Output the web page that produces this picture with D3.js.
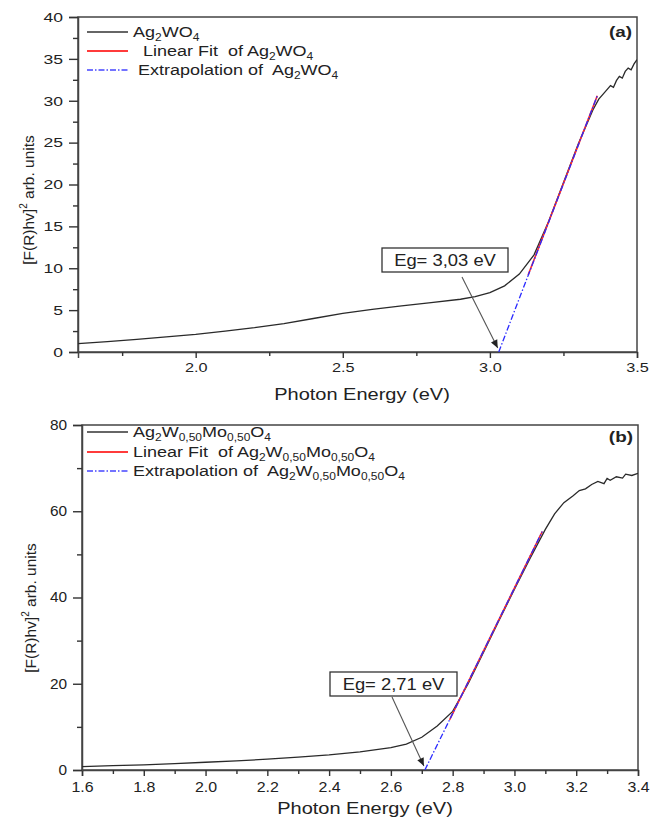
<!DOCTYPE html>
<html><head><meta charset="utf-8">
<script src="https://cdn.jsdelivr.net/npm/d3@7"></script>
<style>body{margin:0;background:#fff}svg{display:block}text{font-family:"Liberation Sans",Arial,sans-serif;fill:#222;white-space:pre}</style>
</head><body><svg id="c" width="651" height="825"></svg>
<script>
// Panel (a) data: Ag2WO4
const energyA = [1.60,1.70,1.80,1.90,2.00,2.10,2.20,2.30,2.40,2.50,2.60,2.70,2.80,2.90,2.95,3.00,3.05,3.10,3.15,3.20,3.25,3.30,3.35,3.37,3.39,3.41,3.42,3.43,3.44,3.45,3.46,3.47,3.48,3.49,3.50];
const absA    = [1.0,1.25,1.5,1.8,2.1,2.5,2.9,3.4,4.0,4.6,5.1,5.5,5.9,6.3,6.6,7.1,7.9,9.3,11.6,15.6,20.2,24.8,28.9,30.2,31.0,31.8,31.6,32.4,32.9,32.7,33.5,33.9,33.7,34.4,34.9];
const fitAx = [3.13, 3.365], fitAy = [9.2, 30.6];
const extAx = [3.03, 3.365], extAy = [0, 30.6];
const egA = 3.03;
const xTicksA = [2.0,2.5,3.0,3.5], xMinorA = [1.75,2.25,2.75,3.25];
const yTicksA = [0,5,10,15,20,25,30,35,40], yMinorA = [2.5,7.5,12.5,17.5,22.5,27.5,32.5,37.5];

// Panel (b) data: Ag2W0.50Mo0.50O4
const energyB = [1.60,1.70,1.80,1.90,2.00,2.10,2.20,2.30,2.40,2.50,2.60,2.65,2.70,2.75,2.80,2.85,2.90,2.95,3.00,3.05,3.10,3.13,3.16,3.19,3.21,3.23,3.25,3.27,3.29,3.30,3.31,3.33,3.35,3.36,3.38,3.40];
const absB    = [0.8,1.0,1.2,1.5,1.8,2.1,2.5,3.0,3.5,4.2,5.2,6.0,7.6,10.2,13.6,20.0,27.3,34.7,41.9,49.0,55.8,59.4,62.0,63.6,64.8,65.2,66.2,66.9,66.4,67.6,67.2,68.0,67.7,68.6,68.3,68.8];
const fitBx = [2.79, 3.09], fitBy = [11.6, 55.3];
const extBx = [2.71, 3.09], extBy = [0, 55.3];
const egB = 2.71;
const xTicksB = [1.6,1.8,2.0,2.2,2.4,2.6,2.8,3.0,3.2,3.4], xMinorB = [1.7,1.9,2.1,2.3,2.5,2.7,2.9,3.1,3.3];
const yTicksB = [0,20,40,60,80], yMinorB = [10,30,50,70];

const svg = d3.select("#c");

function stext(g, x, y, size, sx, anchor){
  return g.append("text").attr("transform",`translate(${x},${y}) scale(${sx},1)`)
    .attr("font-size",size).attr("text-anchor",anchor||"start").attr("xml:space","preserve");
}
function subText(g, x, y, parts){
  const t = stext(g, x, y, 15, 1.2);
  let shifted = false;
  parts.forEach(p=>{
    if (typeof p === "string") {
      const ts = t.append("tspan").text(p);
      if (shifted) { ts.attr("dy",-4); shifted=false; }
    } else {
      t.append("tspan").attr("font-size",10).attr("dy",4).text(p.s);
      shifted = true;
    }
  });
  return t;
}

function panel(o){
  const g = svg.append("g");
  const x = d3.scaleLinear().domain(o.xd).range([o.l,o.r]);
  const y = d3.scaleLinear().domain(o.yd).range([o.b,o.t]);
  g.append("rect").attr("x",o.l).attr("y",o.t).attr("width",o.r-o.l).attr("height",o.b-o.t)
    .attr("fill","none").attr("stroke","#444").attr("stroke-width",1.5);
  const ax = g.append("g").attr("transform",`translate(0,${o.b})`)
    .call(d3.axisBottom(x).tickValues(o.xt).tickFormat(d3.format(".1f")).tickSize(6).tickPadding(o.xpad));
  g.append("g").attr("transform",`translate(0,${o.b})`)
    .call(d3.axisBottom(x).tickValues(o.xm).tickFormat("").tickSize(4)).select(".domain").remove();
  const ay = g.append("g").attr("transform",`translate(${o.l},0)`)
    .call(d3.axisLeft(y).tickValues(o.yt).tickFormat(d3.format("d")).tickSize(9));
  g.append("g").attr("transform",`translate(${o.l},0)`)
    .call(d3.axisLeft(y).tickValues(o.ym).tickFormat("").tickSize(5)).select(".domain").remove();
  g.selectAll(".tick line").attr("stroke","#333").attr("stroke-width",1.4);
  g.selectAll(".domain").attr("stroke","#444").attr("stroke-width",1.5);
  ax.selectAll(".tick text").attr("font-size",o.xfs).attr("transform",`scale(${o.xsx},1)`);
  ay.selectAll(".tick text").attr("font-size",o.yfs).attr("x",-o.yGap/o.ysx).attr("transform",`scale(${o.ysx},1)`);
  g.selectAll(".tick text").attr("fill","#222").attr("font-family","Liberation Sans, Arial, sans-serif");
  // titles
  stext(g, o.xtX, o.xtY, 16, 1.25, "middle").text("Photon Energy (eV)");
  const yt = g.append("text").attr("transform",`translate(${o.ytX},${o.ytC}) rotate(-90)`)
    .attr("text-anchor","middle").attr("font-size",15.5).attr("xml:space","preserve");
  yt.append("tspan").text("[F(R)hv]");
  yt.append("tspan").attr("font-size",10).attr("dy",-7).text("2");
  yt.append("tspan").attr("dy",7).text(" arb. units");
  // clip
  const cid = "clip"+o.id;
  svg.append("clipPath").attr("id",cid).append("rect").attr("x",o.l).attr("y",o.t).attr("width",o.r-o.l).attr("height",o.b-o.t);
  const pg = g.append("g").attr("clip-path",`url(#${cid})`);
  const line = d3.line().x(d=>x(d[0])).y(d=>y(d[1]));
  pg.append("path").datum(o.ex.map((e,i)=>[e,o.ab[i]])).attr("d",line)
    .attr("fill","none").attr("stroke","#2a2a2a").attr("stroke-width",1.3);
  pg.append("path").datum(o.fx.map((e,i)=>[e,o.fy[i]])).attr("d",line)
    .attr("fill","none").attr("stroke","#ff2a2a").attr("stroke-width",1.6);
  pg.append("path").datum(o.xx.map((e,i)=>[e,o.xy[i]])).attr("d",line)
    .attr("fill","none").attr("stroke","#2a2aff").attr("stroke-width",1.3).attr("stroke-dasharray","6,2,1.5,2");
  // legend
  const lx0 = 87, lx1 = 128;
  const ly = o.legY;
  g.append("line").attr("x1",lx0).attr("x2",lx1).attr("y1",ly[0]).attr("y2",ly[0]).attr("stroke","#333").attr("stroke-width",1.4);
  g.append("line").attr("x1",lx0).attr("x2",lx1).attr("y1",ly[1]).attr("y2",ly[1]).attr("stroke","#ff3b3b").attr("stroke-width",2);
  g.append("line").attr("x1",lx0).attr("x2",lx1).attr("y1",ly[2]).attr("y2",ly[2]).attr("stroke","#4646ff").attr("stroke-width",1.3).attr("stroke-dasharray","6,2,1.5,2");
  subText(g, 133, ly[0]+5, o.name);
  subText(g, 133, ly[1]+5, o.fitName);
  subText(g, 133, ly[2]+5, o.extName);
  // panel label
  stext(g, o.r-5, o.labY, 14, 1.35, "end").attr("font-weight","bold").text(o.label);
  // annotation
  const bx = o.box;
  g.append("rect").attr("x",bx[0]).attr("y",bx[1]).attr("width",bx[2]).attr("height",bx[3])
    .attr("fill","#fff").attr("stroke","#333").attr("stroke-width",1.3);
  stext(g, bx[0]+bx[2]/2, bx[1]+bx[3]/2+6, 16, 1.15, "middle").text(o.egText);
  const x1 = o.arrowStart[0], y1 = o.arrowStart[1], x2 = x(o.eg)-1, y2 = y(0)-4;
  g.append("line").attr("x1",x1).attr("y1",y1).attr("x2",x2).attr("y2",y2).attr("stroke","#555").attr("stroke-width",1.1);
  const ang = Math.atan2(y2-y1,x2-x1), L=8, W=3.5;
  const p = [[x2,y2],[x2-L*Math.cos(ang)+W*Math.sin(ang), y2-L*Math.sin(ang)-W*Math.cos(ang)],[x2-L*Math.cos(ang)-W*Math.sin(ang), y2-L*Math.sin(ang)+W*Math.cos(ang)]];
  g.append("path").attr("d","M"+p.map(q=>q.join(",")).join("L")+"Z").attr("fill","#222");
}

const sub = s=>({s});
panel({id:"a", l:78, r:637, t:17, b:352, xd:[1.6,3.5], yd:[0,40], xt:xTicksA, xm:xMinorA, yt:yTicksA, ym:yMinorA,
  ex:energyA, ab:absA, fx:fitAx, fy:fitAy, xx:extAx, xy:extAy, eg:egA,
  xfs:13, xsx:1.25, yfs:13.5, ysx:1.3, xpad:5, yGap:15,
  xtX:362, xtY:400, ytX:34, ytC:200, legY:[32,51,70], labY:37,
  name:["Ag",sub("2"),"WO",sub("4")],
  fitName:["  Linear Fit  of Ag",sub("2"),"WO",sub("4")],
  extName:[" Extrapolation of  Ag",sub("2"),"WO",sub("4")],
  label:"(a)", box:[382,248,126,24], egText:"Eg= 3,03 eV", arrowStart:[462,277]});
panel({id:"b", l:82, r:638, t:425, b:770, xd:[1.6,3.4], yd:[0,80], xt:xTicksB, xm:xMinorB, yt:yTicksB, ym:yMinorB,
  ex:energyB, ab:absB, fx:fitBx, fy:fitBy, xx:extBx, xy:extBy, eg:egB,
  xfs:14.5, xsx:1.1, yfs:14, ysx:1.1, xpad:6, yGap:15,
  xtX:365, xtY:814, ytX:36, ytC:608, legY:[432,452,471], labY:442,
  name:["Ag",sub("2"),"W",sub("0,50"),"Mo",sub("0,50"),"O",sub("4")],
  fitName:["Linear Fit  of Ag",sub("2"),"W",sub("0,50"),"Mo",sub("0,50"),"O",sub("4")],
  extName:["Extrapolation of  Ag",sub("2"),"W",sub("0,50"),"Mo",sub("0,50"),"O",sub("4")],
  label:"(b)", box:[330,672,127,24], egText:"Eg= 2,71 eV", arrowStart:[392,697]});
</script></body></html>
